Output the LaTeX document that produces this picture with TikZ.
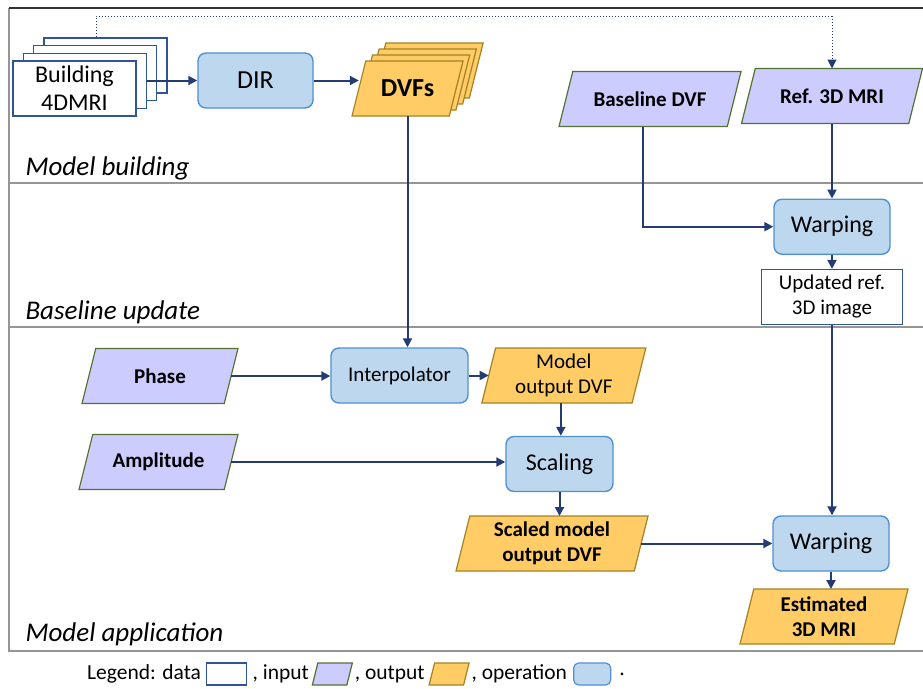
\documentclass[tikz,border=0pt]{standalone}
\usepackage{fontspec}
\setmainfont{Carlito}
\usetikzlibrary{positioning}
\usetikzlibrary{calc}
\usetikzlibrary{arrows.meta}
\definecolor{arrowblue}{RGB}{36,60,115}
\definecolor{dataline}{RGB}{47,85,151}
\definecolor{opfill}{RGB}{189,215,238}
\definecolor{opline}{RGB}{80,145,210}
\definecolor{infill}{RGB}{204,204,255}
\definecolor{inline}{RGB}{84,115,50}
\definecolor{outfill}{RGB}{255,204,102}
\definecolor{outline}{RGB}{165,130,35}
\definecolor{framegray}{RGB}{150,150,150}
\definecolor{framedark}{RGB}{50,50,50}

\makeatletter
\pgfdeclareshape{slantbox}{
  \inheritsavedanchors[from=rectangle]
  \inheritanchorborder[from=rectangle]
  \inheritanchor[from=rectangle]{center}
  \inheritanchor[from=rectangle]{north}
  \inheritanchor[from=rectangle]{south}
  \inheritanchor[from=rectangle]{base}
  \anchor{west}{%
    \southwest \edef\sbxl{\the\pgf@x}\edef\sbyb{\the\pgf@y}%
    \northeast \edef\sbyt{\the\pgf@y}%
    \pgfpoint{\sbxl+0.125*(\sbyt-\sbyb)}{0.5*(\sbyt+\sbyb)}%
  }
  \anchor{east}{%
    \southwest \edef\sbyb{\the\pgf@y}%
    \northeast \edef\sbxr{\the\pgf@x}\edef\sbyt{\the\pgf@y}%
    \pgfpoint{\sbxr-0.125*(\sbyt-\sbyb)}{0.5*(\sbyt+\sbyb)}%
  }
  \backgroundpath{%
    \southwest \edef\sbxl{\the\pgf@x}\edef\sbyb{\the\pgf@y}%
    \northeast \edef\sbxr{\the\pgf@x}\edef\sbyt{\the\pgf@y}%
    \pgfpathmoveto{\pgfqpoint{\sbxl}{\sbyb}}%
    \pgfpathlineto{\pgfpoint{\sbxr-0.25*(\sbyt-\sbyb)}{\sbyb}}%
    \pgfpathlineto{\pgfqpoint{\sbxr}{\sbyt}}%
    \pgfpathlineto{\pgfpoint{\sbxl+0.25*(\sbyt-\sbyb)}{\sbyt}}%
    \pgfpathclose
  }
}
\makeatother

\begin{document}
\begin{tikzpicture}[x=1pt, y=-1pt,
    op/.style={draw=opline, fill=opfill, rounded corners=8pt, line width=1.4pt, minimum height=55pt, align=center, font=\fontsize{24}{28}\selectfont},
    data/.style={draw=dataline, fill=white, line width=1.2pt, minimum width=123pt, minimum height=55pt, inner sep=0pt, align=center, font=\fontsize{24}{28}\selectfont},
    para/.style={shape=slantbox, line width=1.2pt, minimum height=55pt, inner sep=0pt, outer sep=0pt, align=center, font=\bfseries\fontsize{21}{25}\selectfont},
    inp/.style={para, draw=inline, fill=infill},
    outp/.style={para, draw=outline, fill=outfill},
    arr/.style={draw=arrowblue, line width=2pt, -{Triangle[length=9pt, width=9pt]}},
    dotarr/.style={draw=arrowblue, line width=1pt, dotted, -{Triangle[length=9pt, width=9pt]}},
    sect/.style={anchor=base west, font=\itshape\fontsize{27}{32}\selectfont},
    divider/.style={draw=framegray, line width=1.4pt},
    legtext/.style={inner sep=0pt, font=\fontsize{21.5}{25}\selectfont}]

    \useasboundingbox (0,0) rectangle (923,688);

    \draw[divider] (9,8) -- (9,651) -- (923,651);
    \draw[draw=framedark, line width=1.4pt] (9,8) -- (923,8);
    \draw[divider] (9,183) -- (923,183);
    \draw[divider] (9,327) -- (923,327);

    \node[sect] (S1) at (22,175) {Model building};
    \node[sect] (S2) at (22,319) {Baseline update};
    \node[sect] (S3) at (22,641) {Model application};

    \node[data] (B4D3) at (105.4,65.4) {};
    \node[data] (B4D2) at (95.1,73.1) {};
    \node[data] (B4D1) at (84.8,80.8) {};
    \node[data] (B4D) at (74.5,88.5) {Building\\4DMRI};

    \node[op, minimum width=115pt, font=\fontsize{26}{30}\selectfont] (DIR) at (255.5,80.5) {DIR};

    \node[outp, minimum width=111pt] (DVF3) at (427.6,70.5) {};
    \node[outp, minimum width=111pt] (DVF2) at (420.9,76.5) {};
    \node[outp, minimum width=111pt] (DVF1) at (414.2,82.5) {};
    \node[outp, minimum width=111pt, font=\bfseries\fontsize{26}{30}\selectfont] (DVF) at (407.5,88.5) {DVFs};

    \node[inp, minimum width=182pt] (BASE) at (650,99) {Baseline DVF};
    \node[inp, minimum width=181pt] (REF) at (832,96) {Ref. 3D MRI};

    \node[op, minimum width=116pt, below=75pt of REF] (WARP1) {Warping};
    \node[data, minimum width=141pt, font=\fontsize{21}{25}\selectfont, below=14pt of WARP1] (UPD) {Updated ref.\\3D image};

    \node[inp, minimum width=156pt] (PHASE) at (160,376) {Phase};
    \node[inp, minimum width=159pt] (AMP) at (158.5,462) {Amplitude};
    \node[op, minimum width=137pt, font=\fontsize{21}{25}\selectfont] (INT) at (399.5,375.5) {Interpolator};
    \node[outp, minimum width=164pt, font=\fontsize{21}{25}\selectfont, right=20pt of INT] (MOD) {Model\\output DVF};
    \node[op, minimum width=107pt] (SCAL) at (559.5,464) {Scaling};
    \node[outp, minimum width=192pt] (SCD) at (552,543.5) {Scaled model\\output DVF};
    \node[op, minimum width=116pt] (WARP2) at (831,543.5) {Warping};
    \node[outp, minimum width=168pt] (EST) at (824,616.5) {Estimated\\3D MRI};

    \draw[dotarr] ([xshift=-9pt]B4D3.north) -- ++(0,-21) -| (REF.north);
    \draw[arr] (B4D1.east |- DIR.west) -- (DIR.west);
    \draw[arr] (DIR.east) -- (DIR.east -| DVF.west);
    \draw[arr] (DVF.south) -- (DVF.south |- INT.north);
    \draw[arr] ([xshift=-7pt]BASE.south) |- (WARP1.west);
    \draw[arr] (REF.south) -- (REF.south |- WARP1.north);
    \draw[arr] (WARP1.south) -- (WARP1.south |- UPD.north);
    \draw[arr] (UPD.south) -- (UPD.south |- WARP2.north);
    \draw[arr] (WARP2.south) -- (WARP2.south |- EST.north);
    \draw[arr] (PHASE.east) -- (PHASE.east -| INT.west);
    \draw[arr] (INT.east) -- (MOD.west);
    \draw[arr] ([xshift=-3pt]MOD.south) -- ([xshift=-3pt]MOD.south |- SCAL.north);
    \draw[arr] (AMP.east) -- (AMP.east -| SCAL.west);
    \draw[arr] (SCAL.south) -- (SCAL.south |- SCD.north);
    \draw[arr] (SCD.east) -- (SCD.east -| WARP2.west);

    \node[legtext, anchor=west] (LEG) at (87,674) {Legend: data};
    \node[draw=dataline, line width=1.2pt, minimum width=40pt, minimum height=22pt, inner sep=0pt, right=5pt of LEG] (LDATA) {};
    \node[legtext, right=5pt of LDATA] (LIN) {, input};
    \node[para, draw=inline, fill=infill, minimum width=40pt, minimum height=22pt, right=6pt of LIN] (LINP) {};
    \node[legtext, right=5pt of LINP] (LOUT) {, output};
    \node[para, draw=outline, fill=outfill, minimum width=40pt, minimum height=22pt, right=7pt of LOUT] (LOUTP) {};
    \node[legtext, right=5pt of LOUTP] (LOP) {, operation};
    \node[draw=opline, fill=opfill, rounded corners=5pt, line width=1.2pt, minimum width=37pt, minimum height=22pt, inner sep=0pt, right=6pt of LOP] (LOPB) {};
    \node[legtext, right=8pt of LOPB] (LEND) {.};
\end{tikzpicture}
\end{document}
